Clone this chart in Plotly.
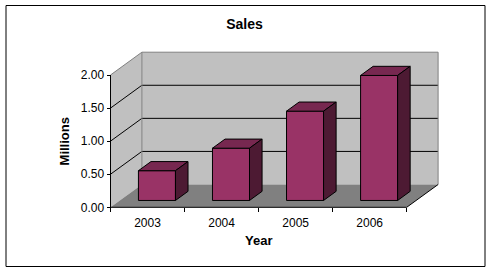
import plotly.graph_objects as go

# ---- data ----
years = ["2003", "2004", "2005", "2006"]
sales = [0.45, 0.79, 1.35, 1.89]          # millions
y_tickvals = [0, 0.5, 1.0, 1.5, 2.0]
y_ticktext = ["0.00", "0.50", "1.00", "1.50", "2.00"]
y_max = 2.0

# ---- layout / style constants ----
FIG_W, FIG_H = 491, 272
ORIGIN_X, ORIGIN_Y = 110.5, 207.3      # pixel of (category 0, value 0) at the front
KX, KY = 74.05, 66.15                  # px per category, px per million
DEPTH_PX = (31.4, 22.8)                # oblique depth offset in px
DX, DY = DEPTH_PX[0] / KX, DEPTH_PX[1] / KY
BAR_W = 0.5
F1, F2 = 0.3, 0.7                      # bar front/back depth fraction
ML, MR, MT, MB = 103, 40, 45, 58
PW, PH = FIG_W - ML - MR, FIG_H - MT - MB
XMIN = (ML - ORIGIN_X) / KX
XMAX = XMIN + PW / KX
YMIN = -((FIG_H - MB) - ORIGIN_Y) / KY
YMAX = YMIN + PH / KY

FONT = "Liberation Sans, Arial, sans-serif"
WALL = "#C0C0C0"
FLOOR = "#808080"
EDGE = "#808080"
BAR_FRONT = "rgb(153,51,102)"
BAR_TOP = "rgb(119,40,80)"
BAR_SIDE = "rgb(77,26,51)"

n = len(years)
traces = []


def px_x(v):
    return (v - XMIN) / (XMAX - XMIN)


def px_y(v):
    return (v - YMIN) / (YMAX - YMIN)


def poly(xs, ys, fill, lc="black", lw=1):
    return go.Scatter(x=xs + [xs[0]], y=ys + [ys[0]], mode="lines", fill="toself",
                      fillcolor=fill, line=dict(color=lc, width=lw),
                      hoverinfo="skip", showlegend=False, cliponaxis=False)


def line(xs, ys, color="black", lw=1):
    return go.Scatter(x=xs, y=ys, mode="lines", line=dict(color=color, width=lw),
                      hoverinfo="skip", showlegend=False, cliponaxis=False)


# walls and floor
traces.append(poly([0, 0, DX, DX], [0, y_max, y_max + DY, DY], WALL, lw=0))
traces.append(poly([DX, n + DX, n + DX, DX], [DY, DY, y_max + DY, y_max + DY], WALL, lw=0))
traces.append(poly([0, n, n + DX, DX], [0, 0, DY, DY], FLOOR, lw=0))

# gridlines
for v in y_tickvals[1:-1]:
    traces.append(line([0, DX, n + DX], [v, v + DY, v + DY]))

# wall edges
traces.append(line([0, DX, n + DX, n + DX], [y_max, y_max + DY, y_max + DY, DY], EDGE))
traces.append(line([DX, DX], [DY, y_max + DY], EDGE))

# floor right edge, axis lines
traces.append(line([n, n + DX], [0, DY]))
traces.append(line([0, n], [0, 0]))
traces.append(line([0, 0], [0, y_max]))

# bars
for i, v in enumerate(sales):
    c = i + 0.5
    xl, xr = c - BAR_W / 2, c + BAR_W / 2
    ax, ay = F1 * DX, F1 * DY
    bx, by = F2 * DX, F2 * DY
    traces.append(poly([xl + ax, xr + ax, xr + ax, xl + ax], [ay, ay, v + ay, v + ay], BAR_FRONT))
    traces.append(poly([xl + ax, xr + ax, xr + bx, xl + bx], [v + ay, v + ay, v + by, v + by], BAR_TOP))
    traces.append(poly([xr + ax, xr + bx, xr + bx, xr + ax], [ay, by, v + by, v + ay], BAR_SIDE))

fig = go.Figure(traces)

fig.update_layout(
    width=FIG_W, height=FIG_H,
    margin=dict(l=ML, r=MR, t=MT, b=MB, autoexpand=False),
    paper_bgcolor="white", plot_bgcolor="rgba(0,0,0,0)",
    font=dict(family=FONT, size=12, color="black"),
    showlegend=False,
    title=dict(text="<b>Sales</b>", x=244.5 / FIG_W, xanchor="center",
               y=1 - 24 / FIG_H, yanchor="middle", yref="container",
               font=dict(family=FONT, size=14, color="black")),
    xaxis=dict(range=[XMIN, XMAX], anchor="free",
               position=px_y(0),
               showgrid=False, zeroline=False, showline=False,
               tickmode="array", tickvals=[i + 0.5 for i in range(n)], ticktext=years,
               ticks="outside", ticklen=4, tickcolor="rgba(0,0,0,0)",
               minor=dict(tickmode="array", tickvals=list(range(n + 1)),
                          ticks="outside", ticklen=4, tickcolor="black", tickwidth=1,
                          showgrid=False),
               tickfont=dict(family=FONT, size=12, color="black"),
               fixedrange=True),
    yaxis=dict(range=[YMIN, YMAX], anchor="free",
               position=px_x(0),
               showgrid=False, zeroline=False, showline=False,
               tickmode="array", tickvals=y_tickvals, ticktext=y_ticktext,
               ticks="outside", ticklen=4, tickcolor="black", tickwidth=1,
               tickfont=dict(family=FONT, size=12, color="black"),
               fixedrange=True),
    annotations=[
        dict(text="<b>Year</b>", x=px_x(n / 2), y=px_y(-(240.7 - ORIGIN_Y) / KY),
             xref="paper", yref="paper",
             showarrow=False, font=dict(family=FONT, size=13, color="black"),
             xanchor="center", yanchor="middle"),
        dict(text="<b>Millions</b>", x=px_x(-(ORIGIN_X - 64.3) / KX), y=px_y(y_max / 2),
             xref="paper", yref="paper",
             showarrow=False, textangle=-90, font=dict(family=FONT, size=13, color="black"),
             xanchor="center", yanchor="middle"),
    ],
    shapes=[
        dict(type="rect", xref="paper", yref="paper",
             x0=(6 - ML) / PW, x1=(485 - ML) / PW,
             y0=(FIG_H - MB - 266.5) / PH, y1=(FIG_H - MB - 5.5) / PH,
             line=dict(color="black", width=1), fillcolor="rgba(0,0,0,0)", layer="below"),
    ],
)

fig.write_html("out.html")
